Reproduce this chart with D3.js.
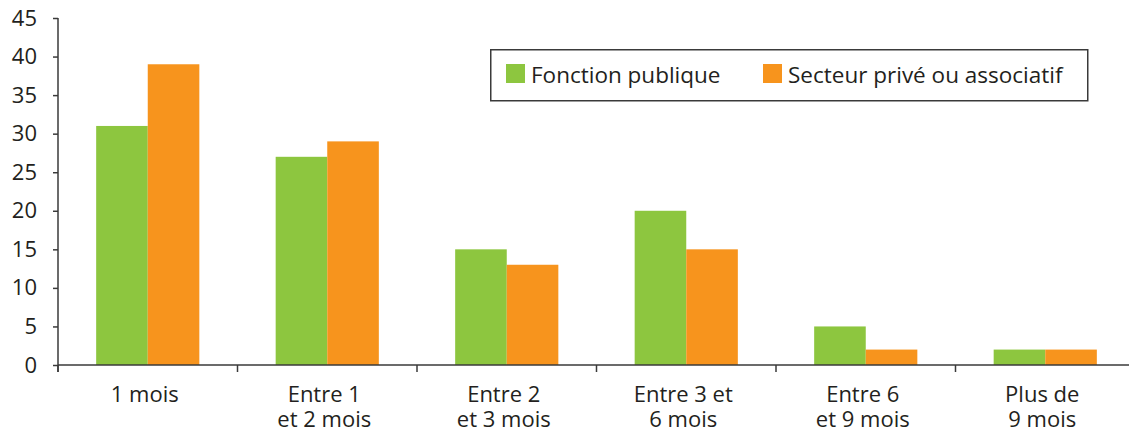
<!DOCTYPE html>
<html>
<head>
<meta charset="utf-8">
<script src="https://cdn.jsdelivr.net/npm/d3@7"></script>
<style>
  html, body { margin: 0; padding: 0; background: #fff; }
  svg { display: block; font-family: "Open Sans", sans-serif; }
</style>
</head>
<body>
<svg id="chart" width="1129" height="432"></svg>
<script>
// Durée par catégorie (en %)
const categories = ["1 mois", "Entre 1\net 2 mois", "Entre 2\net 3 mois", "Entre 3 et\n6 mois", "Entre 6\net 9 mois", "Plus de\n9 mois"];
const seriesNames = ["Fonction publique", "Secteur privé ou associatif"];
const fonctionPublique = [31, 27, 15, 20, 5, 2];
const secteurPrive = [39, 29, 13, 15, 2, 2];
const yTicks = [0, 5, 10, 15, 20, 25, 30, 35, 40, 45];
const colors = ["#8dc63f", "#f7941d"];

const svg = d3.select("#chart");
const axisColor = "#3a3a3a";
const textColor = "#231f20";

const y = d3.scaleLinear().domain([0, 45]).range([365, 18]);
const x0 = d3.scaleBand().domain(categories).range([58, 1135]).padding(0);
const x1 = d3.scaleBand().domain(seriesNames).range([0, x0.bandwidth()])
  .paddingInner(0).paddingOuter(0.74);

const seriesValues = [fonctionPublique, secteurPrive];

// Bars
seriesNames.forEach((name, si) => {
  svg.append("g").selectAll("rect")
    .data(categories.map((c, i) => ({ c, v: seriesValues[si][i] })))
    .join("rect")
    .attr("x", d => x0(d.c) + x1(name))
    .attr("width", x1.bandwidth())
    .attr("y", d => y(d.v))
    .attr("height", d => y(0) - y(d.v))
    .attr("fill", colors[si]);
});

// Y axis
const yAxis = svg.append("g")
  .attr("transform", "translate(58,0)")
  .call(d3.axisLeft(y).tickValues(yTicks).tickSize(5).tickPadding(16).tickSizeOuter(0));
yAxis.select(".domain").attr("stroke", axisColor).attr("stroke-width", 1.5)
  .attr("d", `M0,${y(45)}V372`);
yAxis.selectAll(".tick line").attr("stroke", axisColor).attr("stroke-width", 1.5);
yAxis.selectAll(".tick text")
  .attr("fill", textColor)
  .style("font-size", "22px")
  .style("font-family", "'Open Sans', sans-serif");

// X axis
const xAxis = svg.append("g")
  .attr("transform", `translate(0,${y(0)})`)
  .call(d3.axisBottom(x0).tickSize(0).tickSizeOuter(0).tickFormat(""));
xAxis.select(".domain").attr("stroke", axisColor).attr("stroke-width", 1.5)
  .attr("d", "M58,0H1129");
// Separator ticks between categories
xAxis.selectAll(".tick line")
  .attr("x1", -x0.step() / 2).attr("x2", -x0.step() / 2)
  .attr("y1", 0).attr("y2", 7)
  .attr("stroke", axisColor).attr("stroke-width", 1.5);
xAxis.selectAll(".tick text").remove();
xAxis.selectAll(".tick").append("text")
  .attr("fill", textColor)
  .attr("text-anchor", "middle")
  .style("font-size", "22px")
  .style("font-family", "'Open Sans', sans-serif")
  .each(function (d) {
    const lines = d.split("\n");
    d3.select(this).selectAll("tspan")
      .data(lines)
      .join("tspan")
      .attr("x", -3)
      .attr("y", (l, i) => 37 + i * 25)
      .text(l => l);
  });

// Legend
const legend = svg.append("g");
legend.append("rect")
  .attr("x", 490.75).attr("y", 49.75)
  .attr("width", 597).attr("height", 51)
  .attr("fill", "#fff").attr("stroke", axisColor).attr("stroke-width", 1.5);
const legendX = [506, 763];
seriesNames.forEach((name, i) => {
  legend.append("rect")
    .attr("x", legendX[i]).attr("y", 64)
    .attr("width", 19).attr("height", 19)
    .attr("fill", colors[i]);
  legend.append("text")
    .attr("x", legendX[i] + 25).attr("y", 83)
    .attr("fill", textColor)
    .style("font-size", "22.5px")
    .text(name);
});
</script>
</body>
</html>
